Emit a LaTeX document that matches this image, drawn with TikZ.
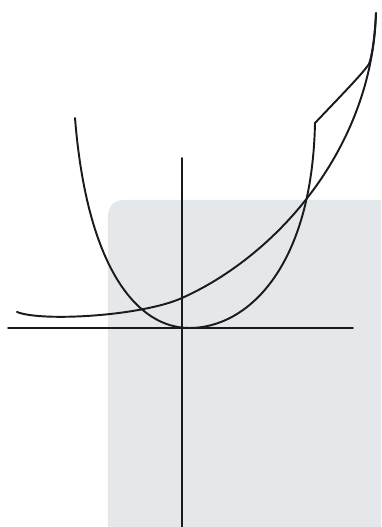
\documentclass[tikz,border=0pt]{standalone}
\usepackage{xcolor}
\usepackage{tikz}
\usetikzlibrary{calc}
\definecolor{SketchInk}{HTML}{1A1A1A}
\definecolor{PanelGray}{HTML}{E5E8EB}

\begin{document}
\begin{tikzpicture}[line width=1.1pt, line join=round, line cap=round]
  \useasboundingbox (-3.64,-3.98) rectangle (3.98,6.56);
  \fill[PanelGray] (-1.48,-3.98) -- (-1.48,2.26) arc (180:90:0.3) -- (3.98,2.56) -- (3.98,-3.98) -- cycle;
  \coordinate (O) at (0,0);
  \coordinate (vertex) at (0.15,0);
  \coordinate (kink) at (2.66,4.10);
  \coordinate (bend) at (3.74,5.28);
  \coordinate (top) at (3.88,6.30);
  \coordinate (cut) at (0,0.60);
  % axes
  \draw[SketchInk] (-3.48,0) -- (3.42,0);
  \draw[SketchInk] (0,3.40) -- (0,-3.98);
  % parabola, drawn by hand with a kink
  \draw[SketchInk] (-2.14,4.20) .. controls (-1.9,1.2) and (-0.9,0) .. (vertex)
    .. controls (1.3,0) and (2.6,1.2) .. (kink)
    .. controls (3.25,4.72) and (3.62,5.10) .. (bend)
    .. controls (3.83,5.55) and (3.86,5.95) .. (top);
  % exponential
  \draw[SketchInk] (-3.30,0.32) .. controls (-2.8,0.12) and (-0.8,0.24) .. (cut)
    .. controls (1.9,1.45) and (3.8,3.6) .. (top);
\end{tikzpicture}
\end{document}
